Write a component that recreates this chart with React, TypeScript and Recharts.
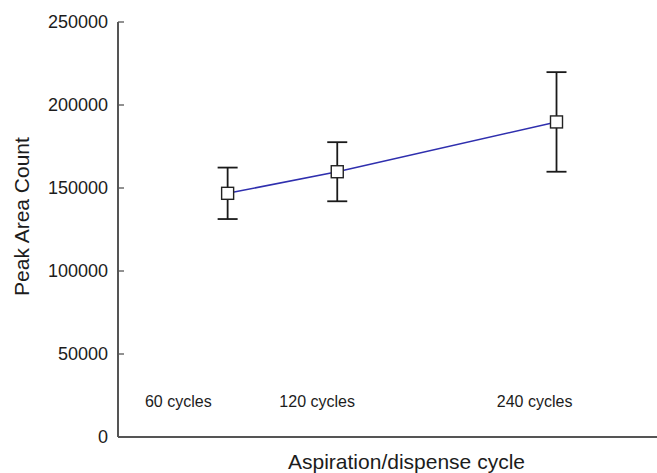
import {
  ComposedChart,
  ErrorBar,
  Label,
  Line,
  ReferenceDot,
  XAxis,
  YAxis,
} from "recharts";

const cycles = [60, 120, 240];
const peakArea = [146800, 159800, 189800];
const peakErr = [15500, 17800, 30000];

const yTicks = [0, 50000, 100000, 150000, 200000, 250000];

// in-plot annotations (text + where they sit, in data units)
const noteText = ["60 cycles", "120 cycles", "240 cycles"];
const noteX = [33, 109, 228];
const noteY = 21700;

const FONT = "'Liberation Sans', Arial, Helvetica, sans-serif";
const INK = "#1c1c1c";
const AXIS = "#555555";
const LINE_BLUE = "#2f2fae";

const data = cycles.map((c, i) => ({ c, v: peakArea[i], err: peakErr[i] }));

// y ticks in this figure point inward (into the plot)
function YTick(props: any) {
  const { x, y, payload } = props;
  return (
    <g>
      <line x1={x + 10} x2={x + 16} y1={y} y2={y} stroke={AXIS} strokeWidth={1.3} />
      <text
        x={x}
        y={y}
        dy={6}
        textAnchor="end"
        fontSize={18}
        fontFamily={FONT}
        fill={INK}
      >
        {payload.value}
      </text>
    </g>
  );
}

function SquareDot(props: any) {
  const { cx, cy, index } = props;
  if (cx == null || cy == null) return <g key={index} />;
  return (
    <rect
      key={index}
      x={cx - 6}
      y={cy - 6}
      width={12}
      height={12}
      fill="#ffffff"
      stroke="#222222"
      strokeWidth={1.4}
    />
  );
}

function XTitle(props: any) {
  const vb = props.viewBox;
  return (
    <text
      x={vb.x + vb.width / 2 + 19}
      y={vb.y + 32}
      textAnchor="middle"
      fontSize={21}
      fontFamily={FONT}
      fill={INK}
    >
      Aspiration/dispense cycle
    </text>
  );
}

function YTitle(props: any) {
  const vb = props.viewBox;
  const cx = vb.x + 22;
  const cy = vb.y + vb.height / 2 - 13;
  return (
    <text
      x={cx}
      y={cy}
      dy={7}
      transform={`rotate(-90, ${cx}, ${cy})`}
      textAnchor="middle"
      fontSize={21}
      fontFamily={FONT}
      fill={INK}
    >
      Peak Area Count
    </text>
  );
}

export default function App() {
  return (
    <div style={{ position: "absolute", left: 0, top: 0, background: "#fff" }}>
      <ComposedChart
        width={657}
        height={473}
        data={data}
        margin={{ top: 22, right: 0, bottom: 0, left: 0 }}
      >
        <XAxis
          dataKey="c"
          type="number"
          domain={[0, 295]}
          tick={false}
          tickLine={false}
          height={36}
          axisLine={{ stroke: AXIS, strokeWidth: 2 }}
        >
          <Label content={<XTitle />} />
        </XAxis>
        <YAxis
          type="number"
          domain={[0, 250000]}
          ticks={yTicks}
          width={118}
          tickSize={0}
          tickMargin={10}
          tick={<YTick />}
          axisLine={{ stroke: AXIS, strokeWidth: 2 }}
        >
          <Label content={<YTitle />} />
        </YAxis>
        {noteText.map((t, i) => (
          <ReferenceDot
            key={t}
            x={noteX[i]}
            y={noteY}
            r={0}
            fill="none"
            stroke="none"
            ifOverflow="visible"
            label={{
              value: t,
              position: "center",
              style: { fontSize: 16, fontFamily: FONT, fill: INK },
            }}
          />
        ))}
        <Line
          dataKey="v"
          stroke={LINE_BLUE}
          strokeWidth={1.6}
          dot={SquareDot}
          activeDot={false}
          isAnimationActive={false}
        >
          <ErrorBar
            dataKey="err"
            direction="y"
            width={10}
            stroke="#1a1a1a"
            strokeWidth={1.8}
            isAnimationActive={false}
          />
        </Line>
      </ComposedChart>
    </div>
  );
}
